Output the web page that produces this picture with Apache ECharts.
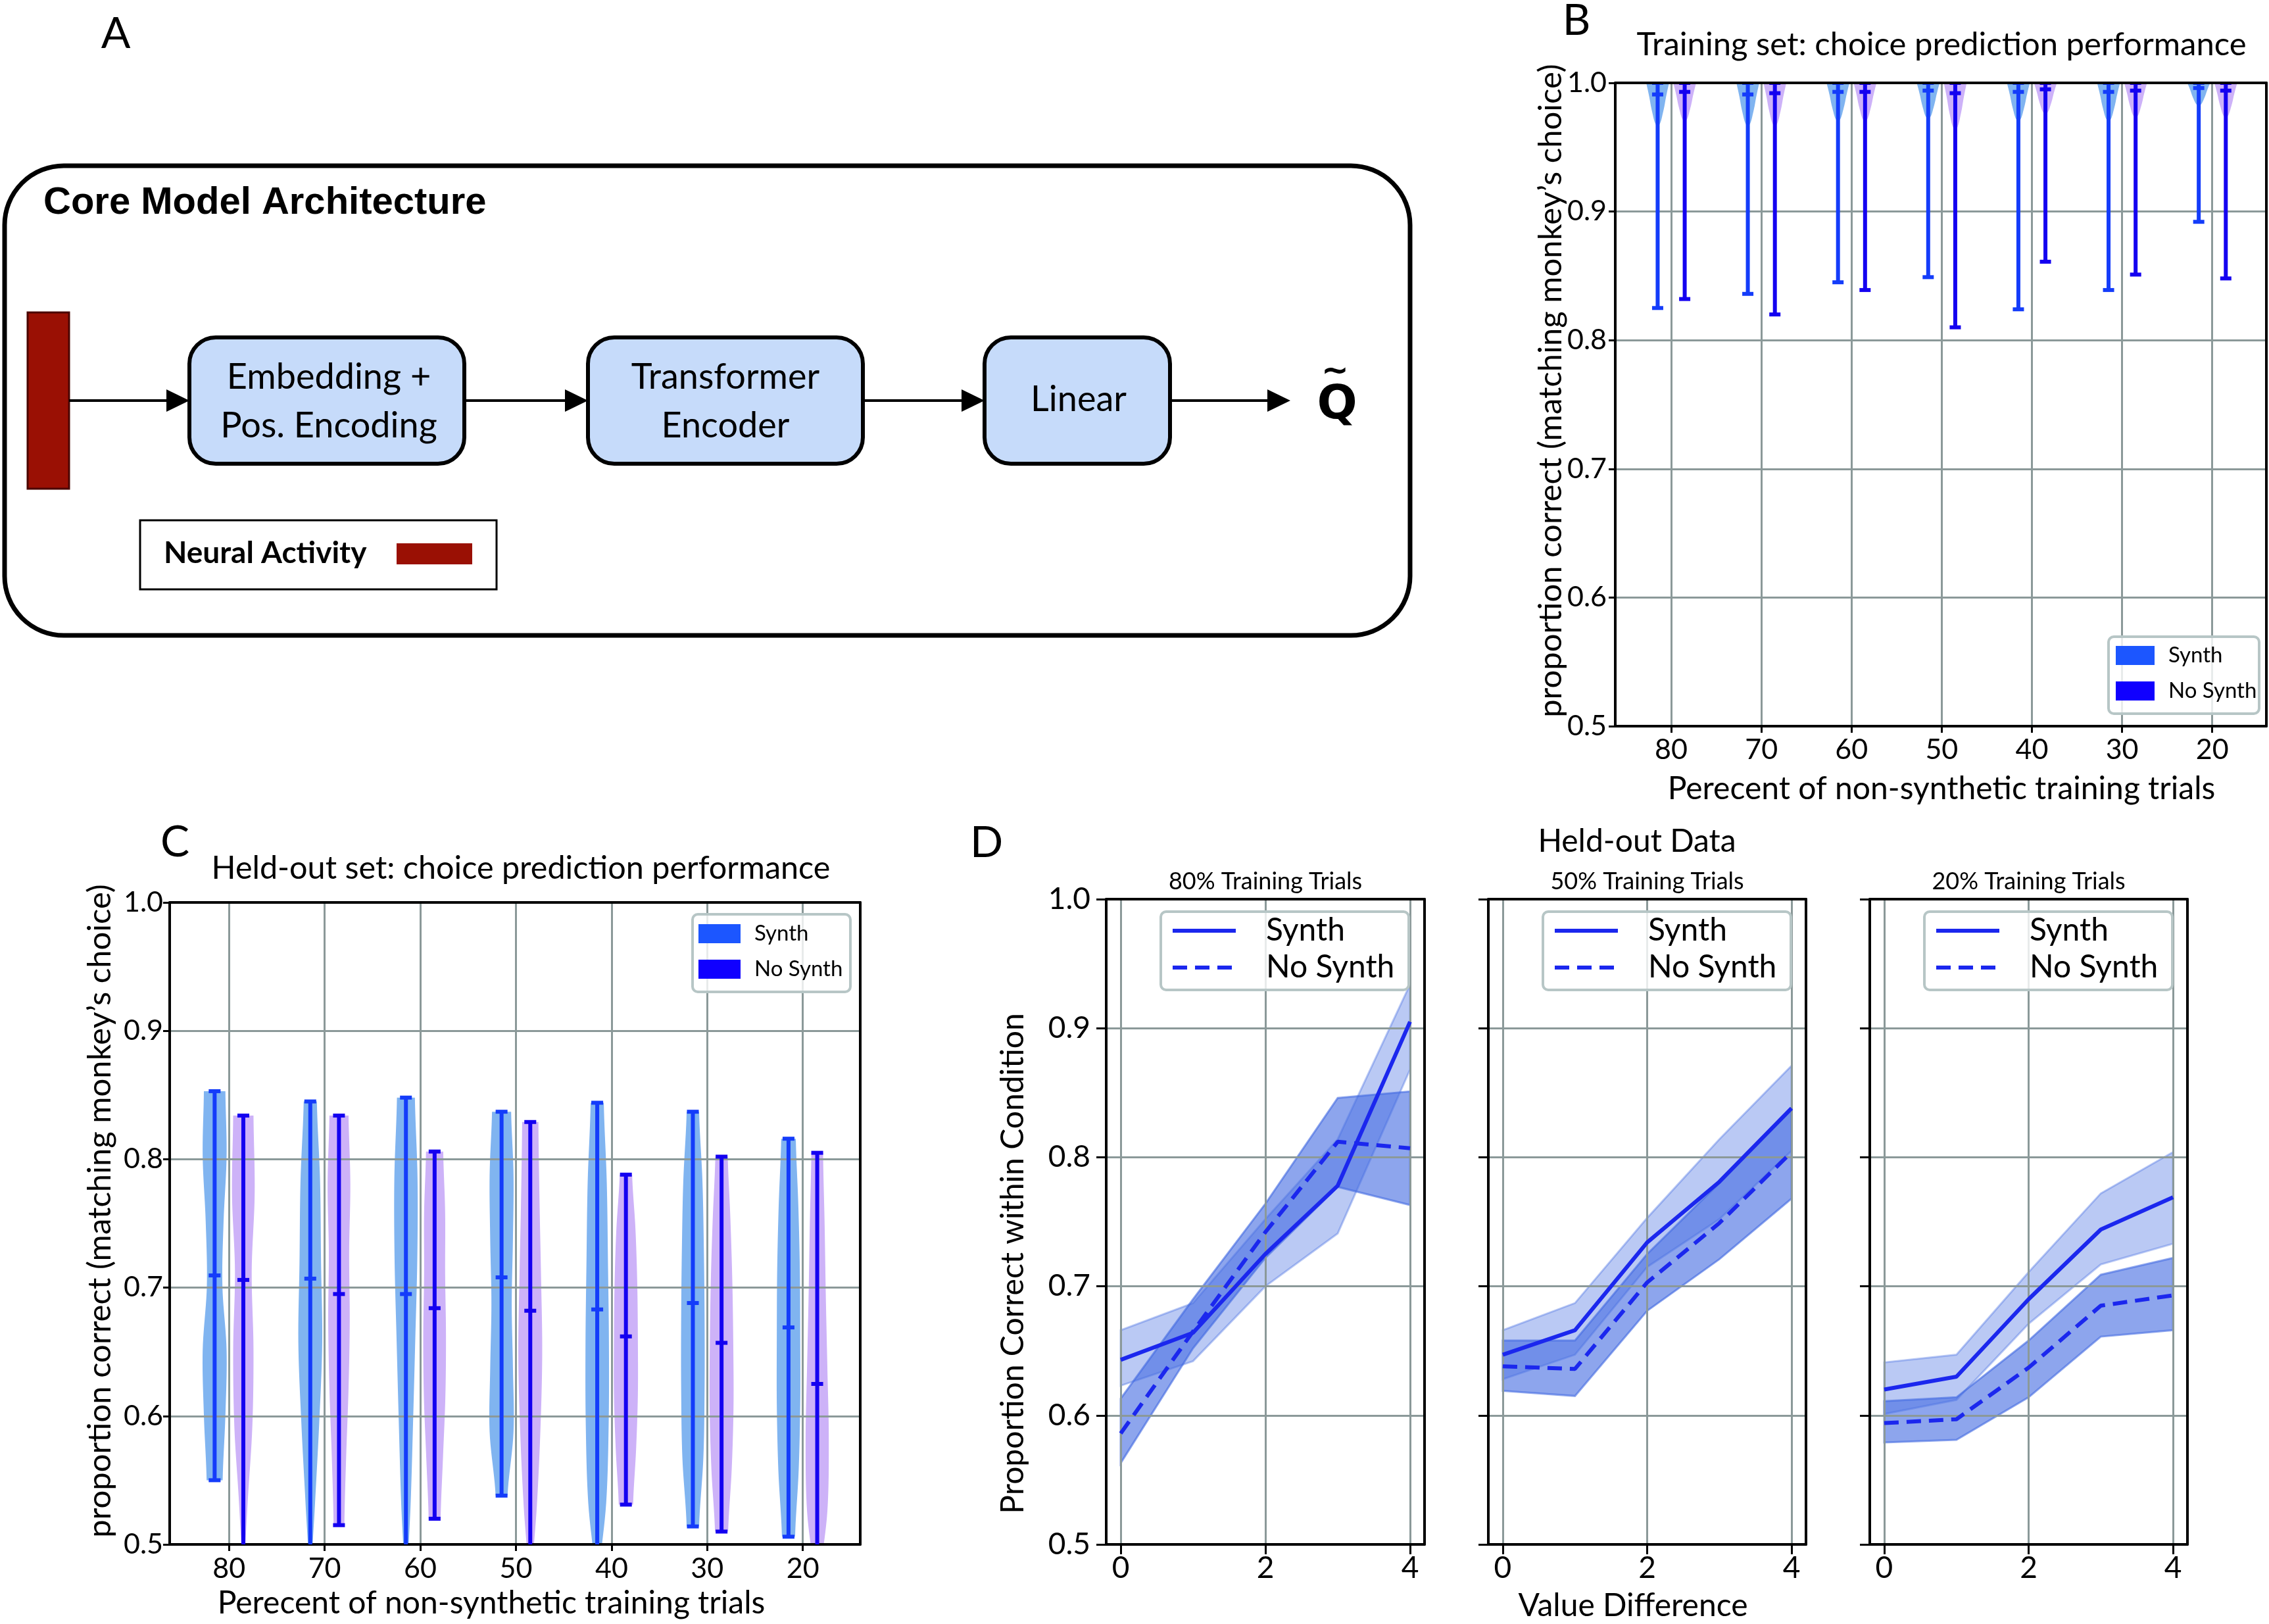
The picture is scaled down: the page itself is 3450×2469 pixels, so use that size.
<!DOCTYPE html>
<html>
<head>
<meta charset="utf-8">
<script src="https://cdn.jsdelivr.net/npm/echarts@6/dist/echarts.min.js"></script>
<style>
  html, body { margin: 0; padding: 0; background: #fff; }
  #chart { width: 3450px; height: 2469px; }
</style>
</head>
<body>
<div id="chart"></div>
<script>
// ---- data ----
const pctLabels = ['80', '70', '60', '50', '40', '30', '20'];
const seriesNames = ['Synth', 'No Synth'];

// B: training set violins (max is 1.0 for all)
const trainMax = 1.0;
const trainSynthMin = [0.825, 0.836, 0.845, 0.849, 0.824, 0.839, 0.892];
const trainSynthMed = [0.991, 0.991, 0.993, 0.994, 0.993, 0.993, 0.996];
const trainSynthTip = [0.964, 0.964, 0.968, 0.970, 0.968, 0.968, 0.981];
const trainNoSynthMin = [0.832, 0.820, 0.839, 0.810, 0.861, 0.851, 0.848];
const trainNoSynthMed = [0.993, 0.992, 0.993, 0.992, 0.995, 0.994, 0.994];
const trainNoSynthTip = [0.968, 0.964, 0.968, 0.961, 0.974, 0.971, 0.971];
// relative half width of the training violins, tip -> top
const trainShape = [0, 0.28, 0.45, 0.6, 0.72, 0.86, 1.0];

// C: held-out violins
const testSynthMin = [0.550, 0.470, 0.470, 0.538, 0.470, 0.514, 0.506];
const testSynthMax = [0.853, 0.845, 0.848, 0.837, 0.844, 0.837, 0.816];
const testSynthMed = [0.7095, 0.707, 0.695, 0.708, 0.683, 0.688, 0.669];
const testNoSynthMin = [0.470, 0.515, 0.520, 0.470, 0.531, 0.510, 0.470];
const testNoSynthMax = [0.834, 0.834, 0.806, 0.829, 0.788, 0.802, 0.805];
const testNoSynthMed = [0.706, 0.695, 0.684, 0.682, 0.662, 0.657, 0.625];
// relative half widths, bottom -> top
const testSynthShape = [
  [0.67, 0.9, 1.0, 0.65, 0.75, 1.0, 0.9],
  [0.05, 0.4, 0.75, 1.0, 0.9, 0.82, 0.55],
  [0.1, 0.4, 0.6, 0.78, 0.95, 0.97, 0.75],
  [0.5, 1.0, 0.95, 0.85, 0.95, 1.0, 0.8],
  [0.1, 0.75, 0.96, 0.98, 0.9, 0.8, 0.55],
  [0.52, 0.88, 0.98, 0.98, 0.92, 0.8, 0.52],
  [0.55, 0.85, 0.98, 0.98, 0.95, 0.82, 0.61]
];
const testNoSynthShape = [
  [0.05, 0.35, 0.75, 0.85, 0.7, 0.95, 0.85],
  [0.45, 0.6, 0.8, 0.9, 0.85, 0.95, 0.8],
  [0.5, 0.7, 0.9, 0.95, 0.88, 0.88, 0.72],
  [0.1, 0.55, 0.85, 1.0, 0.9, 0.77, 0.68],
  [0.6, 0.85, 1.0, 1.0, 0.95, 0.8, 0.52],
  [0.55, 0.85, 1.0, 0.98, 0.9, 0.74, 0.52],
  [0.2, 0.85, 0.97, 0.85, 0.72, 0.62, 0.49]
];

// D: held-out accuracy by value difference
const valueDiff = [0, 1, 2, 3, 4];
const dTitles = ['80% Training Trials', '50% Training Trials', '20% Training Trials'];
const synthMean = [
  [0.643, 0.664, 0.725, 0.778, 0.905],
  [0.647, 0.666, 0.734, 0.781, 0.838],
  [0.620, 0.630, 0.690, 0.744, 0.769]
];
const synthLo = [
  [0.623, 0.642, 0.700, 0.741, 0.868],
  [0.628, 0.647, 0.715, 0.752, 0.805],
  [0.601, 0.612, 0.671, 0.717, 0.733]
];
const synthHi = [
  [0.666, 0.687, 0.752, 0.814, 0.934],
  [0.666, 0.687, 0.753, 0.814, 0.871],
  [0.641, 0.647, 0.711, 0.772, 0.804]
];
const noSynthMean = [
  [0.586, 0.665, 0.742, 0.812, 0.807],
  [0.638, 0.636, 0.703, 0.749, 0.804],
  [0.594, 0.597, 0.637, 0.685, 0.693]
];
const noSynthLo = [
  [0.563, 0.652, 0.722, 0.777, 0.763],
  [0.619, 0.615, 0.681, 0.721, 0.768],
  [0.579, 0.581, 0.614, 0.661, 0.666]
];
const noSynthHi = [
  [0.613, 0.690, 0.764, 0.846, 0.851],
  [0.658, 0.658, 0.725, 0.780, 0.837],
  [0.611, 0.614, 0.658, 0.709, 0.722]
];

// ---- styling ----
const FONT = 'Lato';
const gridCol = '#8b9999';
const bodyColors = ['#80b4f0', '#cdb2f8'];
const lineColors = ['#143cfa', '#1400f0'];
const patchColors = ['#1c56ff', '#1000ff'];
const dLine = '#1b27ee';
const dBand = '#4169e1';
const HALF = 0.125, CAP = 0.062, OFF = 0.15;

const grids = [
  { left: 2456, top: 126, width: 990, height: 978 },   // B
  { left: 258, top: 1372, width: 1050, height: 976 },  // C
  { left: 1682, top: 1367, width: 484, height: 981 },  // D 80%
  { left: 2263, top: 1367, width: 483, height: 981 },  // D 50%
  { left: 2843, top: 1367, width: 483, height: 981 }   // D 20%
];

function catmull(arr, t) {
  const n = arr.length - 1;
  const i = Math.min(Math.floor(t), n - 1);
  const f = t - i;
  const p0 = arr[Math.max(i - 1, 0)], p1 = arr[i], p2 = arr[i + 1], p3 = arr[Math.min(i + 2, n)];
  const v = 0.5 * (2 * p1 + (-p0 + p2) * f + (2 * p0 - 5 * p1 + 4 * p2 - p3) * f * f +
    (-p0 + 3 * p1 - 3 * p2 + p3) * f * f * f);
  return Math.max(0, v);
}

// violins for B and C
const violinsB = [], violinsC = [];
pctLabels.forEach((_, i) => {
  violinsB.push({ x: i - OFF, lo: trainSynthMin[i], hi: trainMax, med: trainSynthMed[i], bLo: trainSynthTip[i], bHi: trainMax, shape: trainShape, g: 0 });
  violinsB.push({ x: i + OFF, lo: trainNoSynthMin[i], hi: trainMax, med: trainNoSynthMed[i], bLo: trainNoSynthTip[i], bHi: trainMax, shape: trainShape, g: 1 });
  violinsC.push({ x: i - OFF, lo: testSynthMin[i], hi: testSynthMax[i], med: testSynthMed[i], bLo: testSynthMin[i], bHi: testSynthMax[i], shape: testSynthShape[i], g: 0 });
  violinsC.push({ x: i + OFF, lo: testNoSynthMin[i], hi: testNoSynthMax[i], med: testNoSynthMed[i], bLo: testNoSynthMin[i], bHi: testNoSynthMax[i], shape: testNoSynthShape[i], g: 1 });
});

function bodySeries(list, axisIdx) {
  return {
    type: 'custom', xAxisIndex: axisIdx, yAxisIndex: axisIdx, z: 1, clip: true, silent: true,
    data: list.map(v => [v.x, v.med]),
    renderItem: (params, api) => {
      const v = list[params.dataIndex];
      const N = 60, left = [], right = [];
      for (let k = 0; k <= N; k++) {
        const t = k / N;
        const val = v.bLo + t * (v.bHi - v.bLo);
        const w = HALF * catmull(v.shape, t * (v.shape.length - 1));
        left.push(api.coord([v.x - w, val]));
        right.unshift(api.coord([v.x + w, val]));
      }
      return {
        type: 'polygon', shape: { points: left.concat(right) },
        style: { fill: bodyColors[v.g], stroke: null }
      };
    }
  };
}

function lineSeries(list, axisIdx) {
  return {
    type: 'custom', xAxisIndex: axisIdx, yAxisIndex: axisIdx, z: 3, clip: true, silent: true,
    data: list.map(v => [v.x, v.med]),
    renderItem: (params, api) => {
      const v = list[params.dataIndex];
      const st = { stroke: lineColors[v.g], lineWidth: 6, lineCap: 'butt' };
      const seg = (a, b) => ({ type: 'line', shape: { x1: a[0], y1: a[1], x2: b[0], y2: b[1] }, style: st });
      return {
        type: 'group',
        children: [
          seg(api.coord([v.x, v.lo]), api.coord([v.x, v.hi])),
          seg(api.coord([v.x - CAP, v.lo]), api.coord([v.x + CAP, v.lo])),
          seg(api.coord([v.x - CAP, v.hi]), api.coord([v.x + CAP, v.hi])),
          seg(api.coord([v.x - CAP, v.med]), api.coord([v.x + CAP, v.med]))
        ]
      };
    }
  };
}

function bandSeries(p, lo, hi, opacity, axisIdx) {
  return {
    type: 'custom', xAxisIndex: axisIdx, yAxisIndex: axisIdx, z: 1, silent: true,
    data: [[valueDiff[0], lo[p][0]]],
    renderItem: (params, api) => {
      const pts = [];
      valueDiff.forEach((x, i) => pts.push(api.coord([x, lo[p][i]])));
      for (let i = valueDiff.length - 1; i >= 0; i--) pts.push(api.coord([valueDiff[i], hi[p][i]]));
      return {
        type: 'polygon', shape: { points: pts },
        style: { fill: dBand, opacity: opacity, stroke: dBand, lineWidth: 3 }
      };
    }
  };
}

// ---- axes ----
const xAxes = [], yAxes = [];
function addAxes(g, xc, yc) {
  const black = { color: '#000', width: 4 };
  xAxes.push({
    gridIndex: g, type: 'value', min: xc.min, max: xc.max, z: 2,
    minInterval: xc.step, maxInterval: xc.step, splitNumber: 7,
    axisLine: { show: true, onZero: false, lineStyle: black },
    axisTick: { show: true, length: xc.tick, customValues: xc.ticks, lineStyle: { color: '#000', width: 3 } },
    axisLabel: { show: true, customValues: xc.ticks, formatter: xc.fmt, fontFamily: FONT, fontSize: xc.size, color: '#000', margin: xc.margin },
    splitLine: { show: true, lineStyle: { color: gridCol, width: 3 } }
  });
  xAxes.push({
    gridIndex: g, type: 'value', position: 'top', min: xc.min, max: xc.max, z: 4,
    axisLine: { show: true, onZero: false, lineStyle: black },
    axisTick: { show: false }, axisLabel: { show: false }, splitLine: { show: false }
  });
  yAxes.push({
    gridIndex: g, type: 'value', min: 0.5, max: 1.0, interval: 0.1, z: 2,
    axisLine: { show: true, onZero: false, lineStyle: black },
    axisTick: { show: true, length: yc.tick, lineStyle: { color: '#000', width: 3 } },
    axisLabel: { show: yc.labels, formatter: v => v.toFixed(1), fontFamily: FONT, fontSize: yc.size, color: '#000', margin: yc.margin },
    splitLine: { show: true, lineStyle: { color: gridCol, width: 3 } }
  });
  yAxes.push({
    gridIndex: g, type: 'value', position: 'right', min: 0.5, max: 1.0, z: 4,
    axisLine: { show: true, onZero: false, lineStyle: black },
    axisTick: { show: false }, axisLabel: { show: false }, splitLine: { show: false }
  });
}
const catTicks = pctLabels.map((_, i) => i);
const catFmt = v => pctLabels[Math.round(v)] || '';
addAxes(0, { min: -0.62, max: 6.6, step: 1, ticks: catTicks, fmt: catFmt, tick: 10, size: 43, margin: 15 },
  { labels: true, tick: 10, size: 43, margin: 13 });
addAxes(1, { min: -0.62, max: 6.6, step: 1, ticks: catTicks, fmt: catFmt, tick: 10, size: 43, margin: 16 },
  { labels: true, tick: 10, size: 43, margin: 10 });
for (let p = 0; p < 3; p++) {
  addAxes(2 + p, { min: -0.2, max: 4.2, step: 2, ticks: [0, 2, 4], fmt: v => String(v), tick: 15, size: 46, margin: 13 },
    { labels: p === 0, tick: 15, size: 46, margin: 24 });
}
// main (bottom/left) axes sit at even indices
const ax = g => 2 * g;

// ---- series ----
const series = [
  bodySeries(violinsB, ax(0)), lineSeries(violinsB, ax(0)),
  bodySeries(violinsC, ax(1)), lineSeries(violinsC, ax(1))
];
for (let p = 0; p < 3; p++) {
  const a = ax(2 + p);
  series.push(bandSeries(p, synthLo, synthHi, 0.36, a));
  series.push(bandSeries(p, noSynthLo, noSynthHi, 0.6, a));
  series.push({
    type: 'line', name: seriesNames[0], xAxisIndex: a, yAxisIndex: a, z: 3, silent: true,
    showSymbol: false, data: valueDiff.map((x, i) => [x, synthMean[p][i]]),
    lineStyle: { color: dLine, width: 6 }
  });
  series.push({
    type: 'line', name: seriesNames[1], xAxisIndex: a, yAxisIndex: a, z: 3, silent: true,
    showSymbol: false, data: valueDiff.map((x, i) => [x, noSynthMean[p][i]]),
    lineStyle: { color: dLine, width: 6, type: [22, 12] }
  });
}

// ---- graphic: diagram, titles, legends ----
function txt(x, y, text, size, o = {}) {
  return {
    type: 'text', x: x, y: y, rotation: o.rot || 0, z: 20,
    style: {
      text: text, fill: '#000', fontSize: size, fontFamily: o.family || FONT, fontWeight: o.weight || 'normal',
      align: o.align || 'center', verticalAlign: 'middle', textAlign: o.align || 'center', textVerticalAlign: 'middle'
    }
  };
}
function arrow(x1, x2, y) {
  return [
    { type: 'line', z: 20, shape: { x1: x1, y1: y, x2: x2 - 30, y2: y }, style: { stroke: '#000', lineWidth: 4 } },
    { type: 'polygon', z: 20, shape: { points: [[x2 - 35, y - 17], [x2, y], [x2 - 35, y + 17]] }, style: { fill: '#000' } }
  ];
}
function box(x, y, w, h, r, fill, stroke, lw) {
  return { type: 'rect', z: 19, shape: { x: x, y: y, width: w, height: h, r: r }, style: { fill: fill, stroke: stroke, lineWidth: lw } };
}

const g = [];
// panel A
g.push(txt(176, 52, 'A', 66));
g.push(box(7, 252, 2137, 714, 90, 'none', '#000', 7));
g.push(txt(66, 309, 'Core Model Architecture', 58, { align: 'left', weight: 'bold', family: 'Liberation Sans' }));
g.push(box(42, 475, 63, 268, 0, '#9a1004', '#4a0500', 3));
g.push(box(288, 513, 418, 192, 40, '#c6dbfa', '#000', 6));
g.push(box(894, 513, 418, 192, 40, '#c6dbfa', '#000', 6));
g.push(box(1497, 513, 282, 192, 40, '#c6dbfa', '#000', 6));
g.push(...arrow(105, 288, 609), ...arrow(706, 894, 609), ...arrow(1312, 1497, 609), ...arrow(1779, 1962, 609));
g.push(txt(500, 574, 'Embedding +', 54), txt(500, 648, 'Pos. Encoding', 54));
g.push(txt(1103, 574, 'Transformer', 54), txt(1103, 648, 'Encoder', 54));
g.push(txt(1640, 608, 'Linear', 54));
g.push(txt(2033, 617, 'Q', 72, { weight: 'bold', family: 'DejaVu Sans' }));
g.push(txt(2030, 566, '~', 50, { weight: 'bold', family: 'DejaVu Sans' }));
g.push(box(213, 791, 542, 105, 0, '#fff', '#000', 3));
g.push(txt(249, 841, 'Neural Activity', 46, { align: 'left', weight: 'bold' }));
g.push(box(603, 826, 115, 32, 0, '#9a1004', null, 0));

// panel B
g.push(txt(2397, 32, 'B', 66));
g.push(txt(2952, 68, 'Training set: choice prediction performance', 49));
g.push(txt(2358, 594, 'proportion correct (matching monkey’s choice)', 49, { rot: Math.PI / 2 }));
g.push(txt(2952, 1200, 'Perecent of non-synthetic training trials', 48));
// panel C
g.push(txt(266, 1281, 'C', 66));
g.push(txt(792, 1320, 'Held-out set: choice prediction performance', 48.5));
g.push(txt(152, 1841, 'proportion correct (matching monkey’s choice)', 49, { rot: Math.PI / 2 }));
g.push(txt(747, 2438, 'Perecent of non-synthetic training trials', 48));
// panel D
g.push(txt(1500, 1282, 'D', 66));
g.push(txt(2489, 1280, 'Held-out Data', 48));
g.push(txt(1541, 1921, 'Proportion Correct within Condition', 48, { rot: Math.PI / 2 }));
g.push(txt(2483, 2442, 'Value Difference', 48));
dTitles.forEach((t, p) => {
  const gr = grids[2 + p];
  g.push(txt(gr.left + gr.width / 2, 1340, t, 36));
});

// legends with colour patches (B and C)
function patchLegend(x, y, w, h, px, py, pw, ph, gap, tx) {
  g.push({ type: 'rect', z: 21, shape: { x: x, y: y, width: w, height: h, r: 8 }, style: { fill: 'rgba(255,255,255,0.8)', stroke: '#b7c6c6', lineWidth: 4 } });
  seriesNames.forEach((n, i) => {
    g.push({ type: 'rect', z: 22, shape: { x: px, y: py + i * gap, width: pw, height: ph }, style: { fill: patchColors[i] } });
    const t = txt(tx, py + i * gap + ph / 2, n, 33, { align: 'left' });
    t.z = 22;
    g.push(t);
  });
}
patchLegend(3206, 968, 229, 117, 3217, 982, 59, 29, 54, 3297);
patchLegend(1053, 1390, 240, 118, 1062, 1405, 64, 29, 54, 1147);

// legends with line samples (D)
grids.slice(2).forEach(gr => {
  const L = gr.left;
  g.push({ type: 'rect', z: 21, shape: { x: L + 83, y: 1386, width: 377, height: 119, r: 8 }, style: { fill: 'rgba(255,255,255,0.8)', stroke: '#b7c6c6', lineWidth: 4 } });
  g.push({ type: 'line', z: 22, shape: { x1: L + 101, y1: 1415, x2: L + 197, y2: 1415 }, style: { stroke: dLine, lineWidth: 6 } });
  g.push({ type: 'line', z: 22, shape: { x1: L + 101, y1: 1471, x2: L + 197, y2: 1471 }, style: { stroke: dLine, lineWidth: 6, lineDash: [22, 12] } });
  seriesNames.forEach((n, i) => {
    const t = txt(L + 243, 1415 + i * 56, n, 48, { align: 'left' });
    t.z = 22;
    g.push(t);
  });
});

const chart = echarts.init(document.getElementById('chart'));
chart.setOption({
  animation: false,
  backgroundColor: '#fff',
  grid: grids.map(gr => Object.assign({ containLabel: false, show: false }, gr)),
  xAxis: xAxes,
  yAxis: yAxes,
  series: series,
  graphic: { elements: g }
});
</script>
</body>
</html>
